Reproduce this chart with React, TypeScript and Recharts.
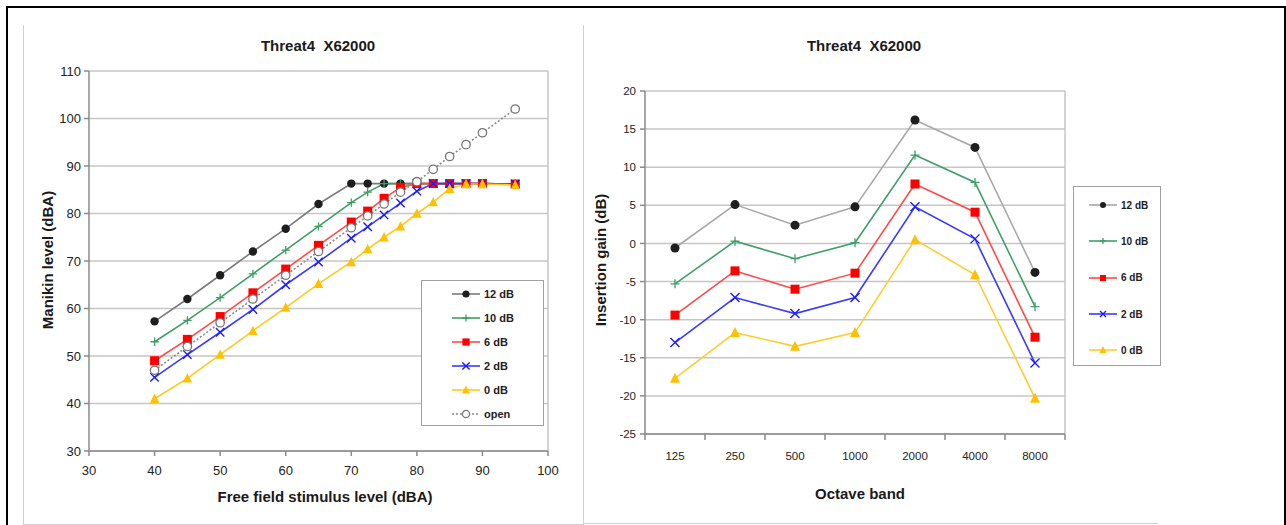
import { LineChart, Line, XAxis, YAxis, CartesianGrid, ReferenceLine } from 'recharts'

// Left chart: manikin level vs free field stimulus level (dBA)
const stimulusLevels = [40, 45, 50, 55, 60, 65, 70, 72.5, 75, 77.5, 80, 82.5, 85, 87.5, 90, 95]
const manikin12 = [57.3, 62, 67, 72, 76.8, 82, 86.3, 86.3, 86.3, 86.3, 86.3, 86.3, 86.3, 86.3, 86.3, 86.2]
const manikin10 = [53, 57.5, 62.3, 67.3, 72.3, 77.3, 82.3, 84.5, 86.3, 86.3, 86.3, 86.3, 86.3, 86.3, 86.3, 86.2]
const manikin6 = [49, 53.5, 58.3, 63.3, 68.3, 73.3, 78.2, 80.5, 83.2, 85.5, 86.3, 86.3, 86.3, 86.3, 86.3, 86.2]
const manikin2 = [45.5, 50.3, 55, 59.8, 65, 69.8, 74.8, 77.2, 79.7, 82.2, 84.7, 86.3, 86.3, 86.3, 86.3, 86.2]
const manikin0 = [41, 45.3, 50.3, 55.3, 60.2, 65.2, 69.8, 72.5, 75, 77.3, 80, 82.4, 85.2, 86.2, 86.2, 86]
const manikinOpen = [47, 52, 57, 62, 67, 72, 77, 79.5, 82, 84.5, 86.7, 89.3, 92, 94.5, 97, 102]
const stimulusTicks = [30, 40, 50, 60, 70, 80, 90, 100]
const manikinTicks = [30, 40, 50, 60, 70, 80, 90, 100, 110]

// Right chart: insertion gain per octave band
const octaveBands = ['125', '250', '500', '1000', '2000', '4000', '8000']
const gain12 = [-0.6, 5.1, 2.4, 4.8, 16.2, 12.6, -3.8]
const gain10 = [-5.3, 0.3, -2.0, 0.1, 11.6, 8.0, -8.3]
const gain6 = [-9.4, -3.6, -6.0, -3.9, 7.8, 4.1, -12.3]
const gain2 = [-13.0, -7.1, -9.2, -7.1, 4.8, 0.6, -15.7]
const gain0 = [-17.7, -11.7, -13.5, -11.7, 0.5, -4.1, -20.3]
const gainTicks = [-25, -20, -15, -10, -5, 0, 5, 10, 15, 20]

const TITLE = 'Threat4  X62000'

type Shape = 'circle' | 'plus' | 'square' | 'cross' | 'triangle' | 'hollow'

const leftSeries = [
  { key: 's12', name: '12 dB', values: manikin12, line: '#7a7a7a', mark: '#1e1e1e', shape: 'circle' as Shape },
  { key: 's10', name: '10 dB', values: manikin10, line: '#3f9f63', mark: '#3f9f63', shape: 'plus' as Shape },
  { key: 's6', name: '6 dB', values: manikin6, line: '#ff4a4a', mark: '#ff0000', shape: 'square' as Shape },
  { key: 's2', name: '2 dB', values: manikin2, line: '#3a3aff', mark: '#1a1aff', shape: 'cross' as Shape },
  { key: 's0', name: '0 dB', values: manikin0, line: '#ffc820', mark: '#ffc000', shape: 'triangle' as Shape },
  { key: 'open', name: 'open', values: manikinOpen, line: '#8a8a8a', mark: '#777777', shape: 'hollow' as Shape, dash: '2 2' },
]

const rightSeries = [
  { key: 's12', name: '12 dB', values: gain12, line: '#a8a8a8', mark: '#1e1e1e', shape: 'circle' as Shape },
  { key: 's10', name: '10 dB', values: gain10, line: '#3f9f6c', mark: '#3f9f6c', shape: 'plus' as Shape },
  { key: 's6', name: '6 dB', values: gain6, line: '#ff4a4a', mark: '#ff0000', shape: 'square' as Shape },
  { key: 's2', name: '2 dB', values: gain2, line: '#3a3aff', mark: '#1a1aff', shape: 'cross' as Shape },
  { key: 's0', name: '0 dB', values: gain0, line: '#ffcc33', mark: '#ffc000', shape: 'triangle' as Shape },
]

const leftData = stimulusLevels.map((x, i) => {
  const row: Record<string, number> = { x }
  leftSeries.forEach((s) => { row[s.key] = s.values[i] })
  return row
})

// bands sit between integer edges: 0..7
const rightData = octaveBands.map((band, i) => {
  const row: Record<string, number | string> = { x: i + 0.5, band }
  rightSeries.forEach((s) => { row[s.key] = s.values[i] })
  return row
})
const bandEdges = octaveBands.map((_, i) => i).concat(octaveBands.length)

const RIGHT_PLOT_W = 420
const HALF_BAND = RIGHT_PLOT_W / octaveBands.length / 2

function Marker({ cx, cy, shape, color, size }: { cx?: number; cy?: number; shape: Shape; color: string; size: number }) {
  if (cx == null || cy == null) return null
  const s = size
  switch (shape) {
    case 'circle':
      return <circle cx={cx} cy={cy} r={s} fill={color} />
    case 'square':
      return <rect x={cx - s} y={cy - s} width={s * 2} height={s * 2} fill={color} />
    case 'triangle':
      return <polygon points={`${cx},${cy - s - 1} ${cx + s + 0.5},${cy + s} ${cx - s - 0.5},${cy + s}`} fill={color} />
    case 'plus':
      return <path d={`M${cx - s},${cy}H${cx + s}M${cx},${cy - s}V${cy + s}`} stroke={color} strokeWidth={1.3} fill="none" />
    case 'cross':
      return <path d={`M${cx - s},${cy - s}L${cx + s},${cy + s}M${cx - s},${cy + s}L${cx + s},${cy - s}`} stroke={color} strokeWidth={1.4} fill="none" />
    case 'hollow':
      return <circle cx={cx} cy={cy} r={s} fill="#fff" stroke={color} strokeWidth={1.3} />
  }
  return null
}

function LegendBox({ series, style, fontSize, rowGap, markSize }: any) {
  return (
    <div style={{ position: 'absolute', border: '1.5px solid #a0a0a0', background: '#fff', boxSizing: 'border-box', ...style }}>
      {series.map((s: any) => (
        <div key={s.key} style={{ display: 'flex', alignItems: 'center', height: rowGap }}>
          <svg width={32} height={12} style={{ marginRight: 2 }}>
            <line x1={2} y1={6} x2={30} y2={6} stroke={s.line} strokeWidth={1.6} strokeDasharray={s.dash} />
            <Marker cx={16} cy={6} shape={s.shape} color={s.mark} size={markSize} />
          </svg>
          <span style={{ fontSize, fontWeight: 700, color: '#222' }}>{s.name}</span>
        </div>
      ))}
    </div>
  )
}

const centered = (left: number, top: number, extra: any = {}) => ({
  position: 'absolute' as const,
  left,
  top,
  transform: 'translate(-50%, -50%)' + (extra.rotate ? ' rotate(-90deg)' : ''),
  whiteSpace: 'pre' as const,
  fontWeight: 700,
  fontSize: 15,
  color: '#1a1a1a',
})

export default function App() {
  const tickStyle = { fill: '#222', fontSize: 13 }
  return (
    <div style={{ position: 'absolute', left: 0, top: 0, width: 1286, height: 525, overflow: 'hidden', background: '#fff', fontFamily: 'Arial, "Liberation Sans", sans-serif' }}>
      <div style={{ position: 'absolute', left: 6, top: 6, width: 1280, height: 560, border: '2px solid #000', boxSizing: 'border-box' }} />
      <div style={{ position: 'absolute', left: 23, top: 25, width: 561, height: 500, borderLeft: '1px solid #d0d0d0', borderRight: '1px solid #d0d0d0', borderBottom: '1px solid #d0d0d0', boxSizing: 'border-box' }} />
      <div style={{ position: 'absolute', left: 583, top: 523, width: 575, height: 1, background: '#d0d0d0' }} />

      {/* left chart */}
      <div style={centered(318, 45)}>{TITLE}</div>
      <div style={centered(47, 260, { rotate: true })}>Manikin level (dBA)</div>
      <div style={centered(325, 496)}>Free field stimulus level (dBA)</div>
      <div style={{ position: 'absolute', left: 23, top: 20 }}>
        <LineChart width={560} height={500} data={leftData} margin={{ top: 51, right: 35, bottom: 0, left: 0 }}>
          <CartesianGrid vertical={false} stroke="#c6c6c6" strokeWidth={1.5} />
          <ReferenceLine x={100} stroke="#c6c6c6" strokeWidth={1.5} />
          <XAxis dataKey="x" type="number" domain={[30, 100]} ticks={stimulusTicks} height={69}
            tick={tickStyle} tickSize={5} tickMargin={10} stroke="#8a8a8a" strokeWidth={1.5} />
          <YAxis type="number" domain={[30, 110]} ticks={manikinTicks} width={66}
            tick={tickStyle} tickSize={5} tickMargin={3} stroke="#8a8a8a" strokeWidth={1.5} />
          {leftSeries.map((s) => (
            <Line key={s.key} dataKey={s.key} name={s.name} stroke={s.line} strokeWidth={1.6}
              strokeDasharray={s.dash} isAnimationActive={false}
              dot={(p: any) => <Marker key={`${s.key}-${p.index}`} cx={p.cx} cy={p.cy} shape={s.shape} color={s.mark} size={s.shape === 'square' ? 4.5 : 4.2} />}
              activeDot={false} />
          ))}
        </LineChart>
      </div>
      <LegendBox series={leftSeries} fontSize={11} rowGap={24} markSize={3.6}
        style={{ left: 421, top: 280, width: 123, height: 146, paddingLeft: 28, paddingTop: 1 }} />

      {/* right chart */}
      <div style={centered(864, 45)}>{TITLE}</div>
      <div style={centered(600, 260, { rotate: true })}>Insertion gain (dB)</div>
      <div style={centered(860, 493)}>Octave band</div>
      <div style={{ position: 'absolute', left: 583, top: 20 }}>
        <LineChart width={575} height={500} data={rightData} margin={{ top: 71, right: 93, bottom: 0, left: 0 }}>
          <CartesianGrid vertical={false} stroke="#c6c6c6" strokeWidth={1.5} />
          <ReferenceLine x={octaveBands.length} stroke="#c6c6c6" strokeWidth={1.5} />
          <XAxis dataKey="x" type="number" domain={[0, octaveBands.length]} ticks={bandEdges} height={86}
            tick={{ fill: '#222', fontSize: 11.5, dx: HALF_BAND }} tickFormatter={(v: number) => octaveBands[v] ?? ''}
            tickSize={6} tickMargin={12} stroke="#8a8a8a" strokeWidth={1.5} />
          <YAxis type="number" domain={[-25, 20]} ticks={gainTicks} width={62}
            tick={{ fill: '#222', fontSize: 11.5 }} tickSize={5} tickMargin={4} stroke="#8a8a8a" strokeWidth={1.5} />
          {rightSeries.map((s) => (
            <Line key={s.key} dataKey={s.key} name={s.name} stroke={s.line} strokeWidth={1.6}
              isAnimationActive={false}
              dot={(p: any) => <Marker key={`${s.key}-${p.index}`} cx={p.cx} cy={p.cy} shape={s.shape} color={s.mark} size={4.5} />}
              activeDot={false} />
          ))}
        </LineChart>
      </div>
      <LegendBox series={rightSeries} fontSize={10} rowGap={36.3} markSize={3}
        style={{ left: 1073, top: 186, width: 88, height: 180, paddingLeft: 13, paddingTop: 0 }} />
    </div>
  )
}
